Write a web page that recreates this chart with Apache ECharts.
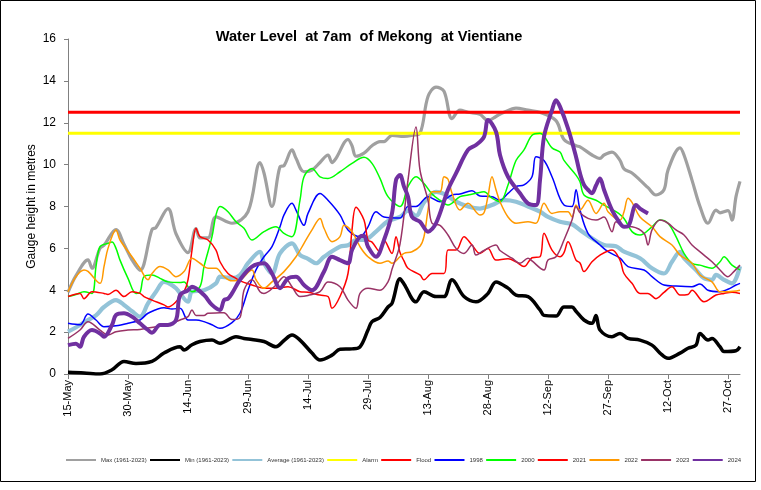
<!DOCTYPE html>
<html>
<head>
<meta charset="utf-8">
<script src="https://cdn.jsdelivr.net/npm/echarts@6/dist/echarts.min.js"></script>
<style>
html,body{margin:0;padding:0;background:#fff;}
#chart{width:761px;height:490px;}
</style>
</head>
<body>
<div id="chart"></div>
<script>
// Day index 0 = 15-May, 168 = 30-Oct
const tickLabels = ['15-May','30-May','14-Jun','29-Jun','14-Jul','29-Jul','13-Aug','28-Aug','12-Sep','27-Sep','12-Oct','27-Oct'];
const seriesNames = ['Max (1961-2023)','Min (1961-2023)','Average (1961-2023)','Alarm','Flood','1998','2000','2021','2022','2023','2024'];
const alarmLevel = 11.5;
const floodLevel = 12.5;
const lastDay = 168;

const maxLevels = [[0,3.9],[2,4.7],[5,5.45],[6,5.05],[8,6.0],[9,6.15],[12,6.9],[14,6.2],[16,5.45],[18,4.95],[21,6.9],[22,7.0],[25,7.9],[27,6.7],[30,5.8],[32,6.95],[33,6.5],[35,6.5],[37,7.5],[41,7.2],[45,7.75],[48,10.1],[49,9.6],[51,8.0],[53,9.9],[54,9.95],[56,10.7],[57,10.3],[59,9.66],[61,9.74],[63,10.1],[65,10.46],[66,10.1],[67,10.3],[70,11.2],[71,10.9],[72,10.4],[74,10.55],[76,10.9],[78,11.1],[79,11.1],[81,11.4],[84,11.35],[86,11.4],[88,11.5],[90,13.25],[92,13.7],[94,13.5],[96,12.2],[98,12.6],[100,12.5],[103,12.4],[105,12.1],[107,12.3],[109,12.5],[112,12.7],[115,12.6],[118,12.5],[122,12.1],[124,11.2],[127,10.9],[128,10.85],[131,10.46],[133,10.3],[134,10.46],[136,10.6],[138,10.2],[139,9.8],[141,9.6],[143,9.26],[145,8.9],[147,8.55],[149,8.8],[150,9.74],[153,10.8],[154,10.46],[156,9.26],[158,8.0],[160,7.2],[162,7.83],[163,7.7],[165,7.8],[166,7.35],[167,8.47],[168,9.2]];
const minLevels = [[0,0.08],[4,0.05],[8,0.0],[11,0.2],[14,0.6],[17,0.5],[21,0.6],[24,1.0],[28,1.3],[29,1.15],[31,1.4],[33,1.55],[36,1.62],[38,1.47],[42,1.78],[44,1.7],[46,1.65],[49,1.55],[52,1.3],[54,1.6],[56,1.86],[58,1.62],[61,1.0],[63,0.67],[66,0.9],[68,1.18],[71,1.2],[73,1.3],[75,2.1],[76,2.5],[78,2.7],[80,3.2],[81,3.37],[83,4.55],[84,4.3],[87,3.45],[89,3.93],[92,3.7],[94,3.7],[96,4.5],[99,3.7],[102,3.45],[105,3.85],[107,4.4],[110,4.1],[112,3.77],[115,3.7],[118,3.06],[119,2.8],[122,2.77],[124,3.2],[126,3.2],[127,3.0],[129,2.58],[131,2.42],[132,2.8],[133,2.1],[136,1.78],[138,1.94],[140,1.7],[143,1.62],[146,1.38],[148,1.0],[150,0.75],[153,1.0],[155,1.23],[157,1.38],[158,1.94],[160,1.62],[161,1.7],[163,1.3],[164,1.07],[167,1.11],[168,1.3]];
const avgLevels = [[0,2.02],[3,2.34],[5,2.58],[7,2.8],[9,3.2],[12,3.53],[14,3.3],[16,3.0],[18,2.74],[20,3.37],[22,3.93],[24,4.4],[25,4.35],[27,4.1],[30,3.45],[31,3.93],[34,4.0],[37,4.33],[38,4.65],[40,4.6],[41,4.58],[43,4.73],[45,5.29],[48,5.84],[49,5.29],[51,4.8],[53,5.76],[56,6.24],[58,5.68],[60,5.5],[62,5.29],[64,5.6],[68,6.08],[70,6.15],[72,6.4],[74,6.4],[77,6.8],[80,7.3],[83,7.5],[85,7.8],[87,7.55],[89,8.2],[92,8.7],[94,8.6],[97,8.23],[100,8.0],[103,7.9],[106,8.07],[109,8.3],[112,8.23],[115,8.0],[118,7.75],[120,7.5],[123,7.27],[126,7.15],[128,6.88],[131,6.48],[134,6.16],[137,6.1],[139,5.84],[143,5.53],[146,5.05],[149,4.8],[151,5.36],[153,5.84],[154,5.53],[157,4.97],[159,4.57],[161,4.5],[162,4.73],[164,4.5],[166,4.33],[168,5.15]];
const levels1998 = [[0,2.42],[3,2.35],[5,2.86],[7,2.58],[9,2.26],[12,2.3],[15,2.42],[18,2.58],[20,2.9],[24,3.17],[26,3.1],[28,3.14],[30,2.58],[32,2.58],[34,2.5],[36,2.35],[38,2.18],[41,2.45],[43,2.9],[45,4.0],[47,4.97],[49,5.6],[51,6.08],[53,7.03],[54,7.6],[56,8.15],[57,7.83],[59,7.1],[60,7.67],[63,8.62],[65,8.3],[68,7.6],[70,6.88],[73,6.56],[75,7.03],[77,7.75],[79,7.5],[83,7.45],[85,8.0],[87,8.0],[90,8.47],[93,8.23],[96,8.55],[98,8.6],[101,8.75],[103,8.5],[106,8.47],[108,8.3],[110,8.63],[112,8.95],[114,9.03],[116,9.42],[117,10.38],[119,10.2],[121,9.42],[124,8.07],[126,8.0],[127,8.8],[128,7.83],[130,6.72],[133,6.16],[135,5.84],[138,5.53],[140,5.13],[144,4.97],[146,4.65],[149,4.25],[152,4.2],[156,4.17],[158,4.3],[160,4.0],[163,3.93],[165,4.05],[167,4.25],[168,4.33]];
const levels2000 = [[0,3.7],[2,3.8],[4,3.93],[6,3.85],[7,5.13],[8,6.08],[10,6.24],[11,6.3],[12,6.0],[13,5.44],[15,4.57],[17,3.85],[18,3.9],[19,4.65],[21,4.73],[23,4.57],[25,4.4],[28,4.37],[29,4.4],[31,3.93],[33,4.17],[34,5.13],[36,6.56],[37,7.6],[38,8.0],[40,7.75],[42,7.27],[44,6.96],[46,6.4],[49,6.8],[52,7.03],[54,6.72],[56,6.56],[58,8.3],[59,9.42],[61,9.82],[63,9.42],[65,9.34],[68,9.66],[71,10.06],[74,10.35],[76,10.06],[78,9.34],[80,8.47],[83,8.0],[85,8.95],[87,9.42],[89,9.1],[91,8.6],[93,8.3],[95,8.07],[98,8.47],[100,8.55],[102,8.63],[104,8.7],[106,8.4],[108,8.23],[110,9.03],[112,10.2],[114,10.7],[116,11.4],[118,11.5],[121,10.8],[123,10.6],[124,10.2],[127,9.5],[128,9.18],[129,8.55],[132,8.3],[134,8.07],[137,7.75],[139,7.43],[141,6.8],[143,6.64],[146,7.03],[148,7.35],[150,7.2],[152,6.56],[154,5.76],[156,5.29],[158,5.2],[161,5.05],[163,5.36],[164,5.6],[166,5.2],[168,4.97]];
const levels2021 = [[0,3.7],[3,3.85],[4,3.6],[6,3.93],[9,3.85],[10,3.8],[12,4.0],[14,3.7],[16,3.93],[18,3.85],[19,3.7],[21,3.53],[24,3.3],[25,3.2],[27,3.45],[29,3.93],[30,4.5],[31,5.92],[32,6.96],[33,6.56],[35,6.4],[37,5.92],[38,5.36],[40,4.8],[42,4.57],[43,4.45],[46,4.25],[49,4.1],[52,4.1],[55,4.17],[58,3.93],[60,3.9],[63,3.77],[65,3.7],[66,3.14],[68,3.7],[70,4.8],[71,6.88],[72,7.96],[74,7.35],[75,6.4],[76,6.3],[78,5.84],[79,6.4],[81,5.76],[82,6.56],[83,5.8],[84,5.4],[85,5.05],[88,4.73],[89,4.5],[91,4.8],[94,4.8],[95,5.92],[97,5.92],[99,6.56],[101,6.16],[103,5.76],[105,6.0],[107,5.44],[110,5.5],[112,5.36],[114,5.13],[116,5.55],[118,5.6],[119,6.72],[121,5.92],[123,5.6],[124,5.8],[125,6.32],[127,5.44],[128,5.3],[129,4.89],[131,5.36],[133,5.68],[136,5.92],[138,5.44],[139,4.8],[141,4.33],[143,3.85],[145,3.85],[147,3.6],[149,3.9],[151,4.17],[153,3.77],[155,3.8],[156,4.0],[159,3.45],[162,3.77],[164,3.85],[166,3.9],[168,3.85]];
const levels2022 = [[0,3.93],[2,4.65],[4,4.97],[5,4.9],[8,4.33],[9,5.13],[10,6.0],[12,6.88],[13,6.4],[16,5.6],[18,5.05],[20,4.5],[21,4.8],[23,5.13],[25,4.97],[27,4.65],[29,4.89],[31,5.53],[33,5.29],[35,5.05],[37,5.05],[39,4.65],[41,4.45],[43,4.5],[46,4.97],[47,4.5],[49,4.1],[51,4.4],[54,4.89],[57,5.6],[59,6.24],[61,6.88],[63,7.43],[64,6.96],[66,6.32],[68,6.56],[69,7.1],[71,6.8],[73,6.08],[75,5.6],[78,5.29],[80,5.4],[81,5.29],[83,5.6],[84,5.76],[86,5.84],[88,6.1],[89,6.56],[90,7.83],[91,8.7],[93,8.7],[94,9.42],[95,9.3],[96,8.63],[98,7.83],[100,8.15],[103,7.6],[104,7.7],[105,8.5],[106,9.42],[107,8.8],[108,8.23],[110,7.5],[112,7.2],[115,7.27],[117,7.2],[119,8.15],[121,7.67],[123,7.75],[125,7.75],[126,7.5],[127,8.07],[128,7.83],[130,8.3],[132,7.67],[134,8.15],[135,7.75],[138,7.35],[139,7.75],[140,8.4],[141,8.2],[143,7.5],[146,7.03],[148,6.56],[151,6.16],[153,5.68],[156,5.29],[158,4.73],[161,4.4],[163,3.93],[165,3.93],[168,4.0]];
const levels2023 = [[0,1.7],[3,2.1],[5,2.5],[8,2.1],[10,1.86],[12,2.02],[15,2.1],[18,2.13],[22,2.26],[25,2.34],[28,2.58],[30,2.74],[31,3.06],[32,2.8],[34,2.8],[35,2.9],[38,2.92],[39,2.93],[41,2.6],[43,2.7],[44,4.0],[46,4.5],[48,3.93],[49,3.85],[52,4.25],[54,4.65],[56,4.17],[58,3.7],[60,3.75],[63,3.93],[65,4.4],[68,4.17],[70,3.53],[72,3.14],[73,3.85],[75,4.1],[78,4.0],[80,4.4],[81,5.0],[83,6.2],[85,9.26],[87,11.8],[88,9.74],[90,8.3],[91,7.2],[93,7.1],[95,6.64],[97,6.0],[99,5.76],[101,6.16],[102,5.68],[104,5.9],[107,6.16],[108,5.9],[111,5.53],[113,5.29],[115,5.53],[116,5.4],[119,4.97],[120,5.44],[122,5.6],[124,6.4],[126,7.35],[127,8.0],[128,7.7],[130,7.43],[132,7.35],[134,7.5],[136,6.8],[137,7.27],[139,7.05],[141,7.03],[144,6.72],[145,6.16],[146,6.88],[148,7.35],[150,7.2],[152,6.88],[154,6.64],[156,6.16],[159,5.68],[161,5.36],[163,4.97],[165,4.65],[166,4.8],[168,5.2]];
const levels2024 = [[0,1.38],[2,1.45],[3,1.3],[4,1.78],[6,2.1],[8,1.94],[9,1.78],[11,2.34],[12,2.82],[14,2.9],[16,2.74],[18,2.42],[20,2.1],[21,1.97],[23,2.34],[25,2.34],[27,2.58],[28,3.77],[30,4.0],[31,4.17],[34,3.77],[36,3.3],[38,3.06],[39,3.53],[40,3.6],[41,3.85],[43,4.5],[46,5.13],[49,5.29],[51,4.8],[53,4.1],[55,4.57],[57,4.65],[59,4.25],[61,4.0],[64,4.89],[66,5.6],[68,5.44],[70,5.29],[71,5.92],[73,6.56],[74,6.6],[75,6.08],[77,5.6],[79,6.4],[81,7.67],[82,9.26],[83,9.5],[84,8.95],[85,8.47],[86,7.5],[88,7.27],[90,6.8],[92,7.2],[95,8.8],[97,9.58],[100,10.7],[102,10.94],[104,11.33],[105,12.13],[107,11.57],[108,10.46],[110,9.42],[113,8.63],[115,8.15],[117,8.07],[118,9.26],[119,11.33],[121,12.6],[122,13.08],[123,12.77],[125,11.73],[127,10.38],[128,9.58],[129,9.03],[130,8.8],[131,8.63],[132,9.0],[133,9.34],[134,8.8],[136,7.83],[138,7.2],[139,7.03],[140,7.05],[142,8.07],[143,7.9],[145,7.67]];

const alarmLine = [[0, alarmLevel], [lastDay, alarmLevel]];
const floodLine = [[0, floodLevel], [lastDay, floodLevel]];

const seriesData = [maxLevels, minLevels, avgLevels, alarmLine, floodLine, levels1998, levels2000, levels2021, levels2022, levels2023, levels2024];
const colors = ['#a0a0a0','#000000','#93c3d8','#ffff00','#ff0000','#0000ff','#00ff00','#ff0000','#ff9900','#993366','#7030a0'];
const widths = [3.2, 3.5, 4.2, 3, 3, 1.5, 1.5, 1.5, 1.5, 1.5, 4];
const smoothing = [0.35,0.35,0.35,false,false,0.35,0.35,0.35,0.35,0.35,0.35];

const chart = echarts.init(document.getElementById('chart'), null, {renderer:'canvas'});
const font = '"Liberation Sans", Arial, sans-serif';
chart.setOption({
  animation: false,
  backgroundColor: '#ffffff',
  title: {
    text: 'Water Level  at 7am  of Mekong  at Vientiane',
    left: 364, top: 24, textAlign: 'center',
    textStyle: {fontFamily: font, fontSize: 14.6, fontWeight: 'bold', color: '#000'}
  },
  legend: {
    data: seriesNames,
    left: 61, top: 452, width: 700,
    itemWidth: 30, itemHeight: 2, itemGap: 3.3,
    icon: 'rect',
    textStyle: {fontFamily: font, fontSize: 6, color: '#333'},
    selectedMode: false
  },
  grid: {left: 68, right: 21, top: 39, bottom: 116, containLabel: false},
  xAxis: {
    type: 'value', min: 0, max: lastDay, interval: 15,
    axisLine: {show: true, lineStyle: {color: '#808080', width: 1}},
    axisTick: {show: true, inside: false, length: 5, lineStyle: {color: '#808080'}},
    splitLine: {show: false},
    axisLabel: {
      rotate: 90, fontFamily: font, fontSize: 11, color: '#000', margin: 6,
      showMaxLabel: false,
      formatter: v => (v % 15 === 0 ? (tickLabels[v / 15] || '') : '')
    }
  },
  yAxis: {
    type: 'value', min: 0, max: 16, interval: 2,
    name: 'Gauge height in metres', nameLocation: 'middle', nameGap: 30,
    nameMoveOverlap: false,
    nameTextStyle: {fontFamily: font, fontSize: 12, color: '#000'},
    axisLine: {show: true, lineStyle: {color: '#808080', width: 1}},
    axisTick: {show: true, inside: false, length: 4, lineStyle: {color: '#808080'}},
    splitLine: {show: false},
    axisLabel: {fontFamily: font, fontSize: 12, color: '#000', margin: 12}
  },
  series: seriesNames.map((name, i) => ({
    name: name,
    type: 'line',
    data: seriesData[i],
    smooth: smoothing[i],
    showSymbol: false,
    symbol: 'none',
    lineStyle: {color: colors[i], width: widths[i]},
    itemStyle: {color: colors[i]},
    z: 2 + i
  })),
  graphic: [{
    type: 'rect', silent: true,
    shape: {x: 0.5, y: 0.5, width: 755, height: 481},
    style: {fill: 'none', stroke: '#000', lineWidth: 1}
  }]
});
</script>
</body>
</html>
